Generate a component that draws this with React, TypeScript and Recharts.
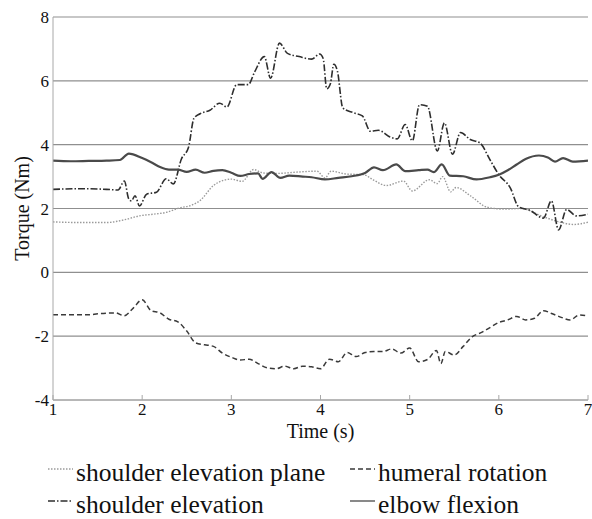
import { LineChart, Line, XAxis, YAxis, CartesianGrid } from 'recharts';

// time (s) and torque (Nm), one pair of arrays per joint
const elbowT = [1.0, 1.2, 1.4, 1.6, 1.75, 1.85, 2.0, 2.1, 2.2, 2.3, 2.4, 2.5, 2.6, 2.7, 2.8, 2.9, 3.0, 3.1, 3.2, 3.3, 3.35, 3.45, 3.55, 3.65, 3.8, 3.9, 4.05, 4.2, 4.35, 4.5, 4.6, 4.7, 4.85, 4.95, 5.1, 5.2, 5.27, 5.36, 5.45, 5.6, 5.75, 5.9, 6.0, 6.1, 6.2, 6.3, 6.45, 6.55, 6.63, 6.72, 6.83, 7.0];
const elbowV = [3.5, 3.48, 3.49, 3.5, 3.52, 3.72, 3.58, 3.45, 3.3, 3.22, 3.22, 3.15, 3.22, 3.12, 3.18, 3.2, 3.12, 3.02, 3.08, 3.1, 2.93, 3.14, 2.96, 3.03, 3.0, 2.98, 2.91, 2.96, 3.01, 3.11, 3.29, 3.2, 3.38, 3.17, 3.2, 3.22, 3.14, 3.38, 3.03, 3.01, 2.91, 2.98, 3.06, 3.2, 3.38, 3.55, 3.66, 3.6, 3.47, 3.58, 3.47, 3.5];

const elevT = [1.0, 1.3, 1.6, 1.73, 1.8, 1.85, 1.88, 1.92, 1.97, 2.05, 2.16, 2.27, 2.35, 2.44, 2.52, 2.58, 2.65, 2.76, 2.87, 2.95, 3.06, 3.19, 3.26, 3.37, 3.44, 3.54, 3.63, 3.76, 3.9, 3.99, 4.03, 4.07, 4.11, 4.15, 4.19, 4.25, 4.37, 4.47, 4.56, 4.65, 4.78, 4.86, 4.95, 5.03, 5.11, 5.2, 5.31, 5.39, 5.48, 5.57, 5.68, 5.79, 5.9, 6.0, 6.13, 6.22, 6.35, 6.5, 6.59, 6.67, 6.76, 6.87, 7.0];
const elevV = [2.6, 2.62, 2.6, 2.58, 2.86, 2.3, 2.24, 2.4, 2.08, 2.45, 2.51, 2.93, 2.77, 3.55, 3.92, 4.82, 4.97, 5.08, 5.3, 5.18, 5.88, 5.88, 6.27, 6.76, 6.08, 7.18, 6.86, 6.76, 6.68, 6.84, 6.7, 5.75, 5.9, 6.52, 6.3, 5.15, 5.0, 4.9, 4.42, 4.45, 4.24, 4.18, 4.63, 4.12, 5.25, 5.2, 3.8, 4.68, 3.7, 4.38, 4.16, 4.05, 3.53, 3.06, 2.64, 2.06, 1.94, 1.7, 2.24, 1.33, 1.97, 1.77, 1.82];

const planeT = [1.0, 1.3, 1.6, 1.82, 1.97, 2.12, 2.27, 2.42, 2.55, 2.65, 2.8, 2.91, 3.0, 3.12, 3.25, 3.36, 3.51, 3.73, 3.96, 4.05, 4.12, 4.29, 4.48, 4.59, 4.74, 4.93, 5.03, 5.22, 5.31, 5.37, 5.46, 5.52, 5.68, 5.87, 6.06, 6.25, 6.5, 6.69, 6.84, 7.0];
const planeV = [1.58, 1.56, 1.56, 1.66, 1.77, 1.82, 1.88, 2.02, 2.1, 2.25, 2.72, 2.88, 2.92, 2.85, 3.22, 3.11, 3.1, 3.14, 3.17, 2.96, 3.17, 3.08, 3.06, 2.9, 2.72, 2.86, 2.55, 2.9, 2.78, 3.0, 2.52, 2.66, 2.4, 2.04, 1.98, 2.0, 1.74, 1.57, 1.5, 1.57];

const humT = [1.0, 1.1, 1.2, 1.3, 1.4, 1.5, 1.6, 1.7, 1.8, 1.9, 2.0, 2.1, 2.2, 2.3, 2.4, 2.5, 2.6, 2.7, 2.8, 2.9, 3.0, 3.1, 3.2, 3.3, 3.4, 3.5, 3.6, 3.7, 3.8, 3.9, 4.0, 4.1, 4.2, 4.3, 4.4, 4.5, 4.6, 4.7, 4.8, 4.9, 5.0, 5.1, 5.2, 5.3, 5.35, 5.4, 5.5, 5.6, 5.7, 5.8, 5.9, 6.0, 6.1, 6.2, 6.3, 6.4, 6.5, 6.6, 6.7, 6.8, 6.9, 7.0];
const humV = [-1.33, -1.33, -1.33, -1.33, -1.33, -1.3, -1.28, -1.27, -1.36, -1.12, -0.86, -1.2, -1.27, -1.47, -1.55, -1.84, -2.21, -2.27, -2.32, -2.53, -2.66, -2.75, -2.72, -2.86, -2.99, -3.02, -2.94, -3.02, -2.94, -2.96, -3.02, -2.72, -2.8, -2.51, -2.64, -2.51, -2.48, -2.48, -2.4, -2.53, -2.37, -2.8, -2.73, -2.45, -2.86, -2.48, -2.59, -2.32, -2.02, -1.89, -1.73, -1.57, -1.49, -1.38, -1.49, -1.44, -1.2, -1.3, -1.41, -1.49, -1.34, -1.36];

const xTicks = [1, 2, 3, 4, 5, 6, 7];
const yTicks = [-4, -2, 0, 2, 4, 6, 8];

const pts = (ts: number[], vs: number[]) => ts.map((t, i) => ({ t, v: vs[i] }));

const series = [
  { name: 'shoulder elevation plane', data: pts(planeT, planeV), color: '#9a9a9a', dash: '1.5 1.5', width: 1.4 },
  { name: 'shoulder elevation', data: pts(elevT, elevV), color: '#2e2e2e', dash: '7 2 1.5 2', width: 1.6 },
  { name: 'humeral rotation', data: pts(humT, humV), color: '#3a3a3a', dash: '5 3', width: 1.5 },
  { name: 'elbow flexion', data: pts(elbowT, elbowV), color: '#4a4a4a', dash: undefined, width: 2.2 },
];

const font = 'Liberation Serif';
const boxColor = '#a8a8a8';

function XTick({ x, y, payload }: any) {
  return (
    <text x={x} y={y} dy={14} textAnchor="middle" fontFamily={font} fontSize={17} fill="#111">
      {payload.value}
    </text>
  );
}

function YTick({ x, y, payload }: any) {
  return (
    <text x={x} y={y} dy={6} textAnchor="end" fontFamily={font} fontSize={17} fill="#111">
      {payload.value}
    </text>
  );
}

// legend grid: [column, row] for each series
const legendSlots = [
  [0, 0],
  [0, 1],
  [1, 0],
  [1, 1],
];

function LegendBox() {
  return (
    <svg width={592} height={67} style={{ position: 'absolute', left: 0, top: 452 }}>
      {series.map((s, i) => {
        const [c, r] = legendSlots[i];
        const x0 = c === 0 ? 48 : 350;
        const y0 = 17 + r * 32;
        return (
          <g key={s.name}>
            <line x1={x0} y1={y0} x2={x0 + 25} y2={y0} stroke={s.color} strokeWidth={1.3} strokeDasharray={s.dash} />
            <text x={x0 + 28} y={y0 + 12} fontFamily={font} fontSize={25.5} fill="#111">
              {s.name}
            </text>
          </g>
        );
      })}
    </svg>
  );
}

export default function App() {
  return (
    <div style={{ position: 'fixed', left: 0, top: 0, width: 592, height: 519, background: '#fff' }}>
      <LineChart width={592} height={452} margin={{ top: 17, right: 4, left: 0, bottom: 12 }}>
        <CartesianGrid vertical={false} stroke="#8f8f8f" strokeWidth={1.2} />
        <XAxis
          xAxisId="top"
          orientation="top"
          type="number"
          dataKey="t"
          domain={[1, 7]}
          ticks={xTicks}
          height={0}
          tick={false}
          tickSize={-5}
          stroke={boxColor}
          allowDataOverflow
        />
        <XAxis
          type="number"
          dataKey="t"
          domain={[1, 7]}
          ticks={xTicks}
          height={40}
          tickSize={-5}
          tickMargin={6}
          tick={<XTick />}
          stroke={boxColor}
          allowDataOverflow
          label={{
            content: ({ viewBox }: any) => (
              <text x={viewBox.x + viewBox.width / 2} y={viewBox.y + 38} textAnchor="middle" fontFamily={font} fontSize={20} fill="#111">
                Time (s)
              </text>
            ),
          }}
        />
        <YAxis
          type="number"
          domain={[-4, 8]}
          ticks={yTicks}
          width={53}
          tickSize={0}
          tickLine={false}
          tickMargin={4}
          tick={<YTick />}
          stroke={boxColor}
          allowDataOverflow
          label={{
            content: ({ viewBox }: any) => {
              const cx = 22;
              const cy = viewBox.y + viewBox.height / 2;
              return (
                <text x={cx} y={cy} transform={`rotate(-90 ${cx} ${cy})`} textAnchor="middle" dominantBaseline="central" fontFamily={font} fontSize={20} fill="#111">
                  Torque (Nm)
                </text>
              );
            },
          }}
        />
        <YAxis yAxisId="right" orientation="right" type="number" domain={[-4, 8]} width={0} tick={false} tickLine={false} stroke={boxColor} />
        {series.map((s) => (
          <Line
            key={s.name}
            data={s.data}
            dataKey="v"
            name={s.name}
            type="monotone"
            stroke={s.color}
            strokeWidth={s.width}
            strokeDasharray={s.dash}
            dot={false}
            isAnimationActive={false}
          />
        ))}
      </LineChart>
      <LegendBox />
    </div>
  );
}
